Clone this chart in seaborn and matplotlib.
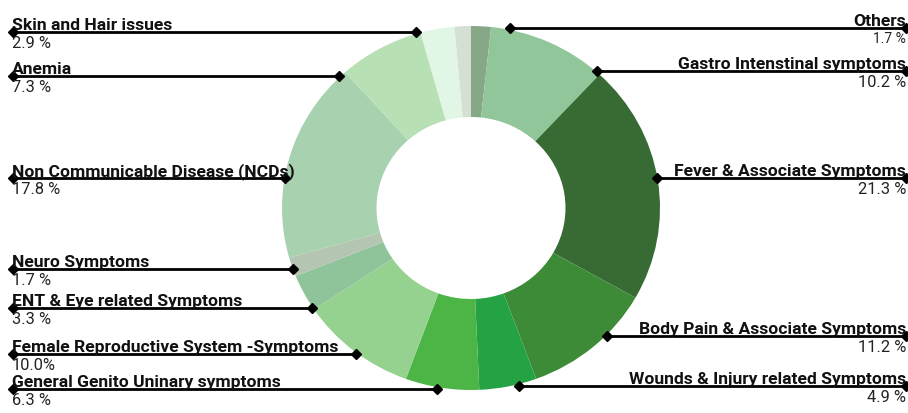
import numpy as np
import seaborn as sns
import matplotlib
matplotlib.use("Agg")
import matplotlib.pyplot as plt

# slices, clockwise from 12 o'clock
labels = ["Others", "Gastro Intenstinal symptoms", "Fever & Associate Symptoms",
          "Body Pain & Associate Symptoms", "Wounds & Injury related Symptoms",
          "General Genito Uninary symptoms", "Female Reproductive System -Symptoms",
          "ENT & Eye related Symptoms", "Neuro Symptoms",
          "Non Communicable Disease (NCDs)", "Anemia", "Skin and Hair issues", ""]
values = [1.7, 10.2, 21.3, 11.2, 4.9, 6.3, 10.0, 3.3, 1.7, 17.8, 7.3, 2.9, 1.4]
pct_text = ["1.7 %", "10.2 %", "21.3 %", "11.2 %", "4.9 %", "6.3 %", "10.0%",
            "3.3 %", "1.7 %", "17.8 %", "7.3 %", "2.9 %", ""]
colors = ["#87a886", "#90c69a", "#376b33", "#3d8b37", "#25a244", "#4db546",
          "#95d18f", "#8fc49a", "#b4c5b2", "#a8d1b0", "#b7e1b4", "#e1f6e4", "#d5e0d5"]

# label layout: side and line height (pixels from top)
side = ["R", "R", "R", "R", "R", "L", "L", "L", "L", "L", "L", "L", None]
line_y = [28, 71, 178, 336, 386, 389, 354, 308, 269, 178, 76, 32, None]

sns.set_style("white")
plt.rcParams['font.family'] = ['Roboto', 'DejaVu Sans']

W, H = 908, 413
cx, cy, rx, ry = 471, 208, 189, 182

fig = plt.figure(figsize=(W / 100, H / 100), dpi=100)
pax = fig.add_axes([(cx - rx) / W, (H - cy - ry) / H, 2 * rx / W, 2 * ry / H])
pax.pie(values, colors=sns.color_palette(colors), startangle=90, counterclock=False,
        radius=1, wedgeprops=dict(width=0.5, linewidth=0))
pax.set_aspect("auto")
pax.set_xlim(-1, 1)
pax.set_ylim(-1, 1)
pax.axis("off")

ax = fig.add_axes([0, 0, 1, 1])
ax.set_xlim(0, W)
ax.set_ylim(H, 0)
ax.axis("off")

for name, pct, s, y in zip(labels, pct_text, side, line_y):
    if s is None:
        continue
    dx = rx * np.sqrt(max(0.0, 1 - ((y - cy) / (ry + 2)) ** 2))
    if s == "L":
        x0, x1, tx, ha = 13, cx - max(dx, 30), 12, "left"
    else:
        x0, x1, tx, ha = cx + min(max(dx, 30), rx), 906, 906, "right"
    ax.plot([x0, x1], [y, y], color="black", lw=2, marker="D", markersize=5,
            solid_capstyle="butt")
    ax.text(tx, y - 2, name, ha=ha, va="baseline", fontsize=12.6, fontweight="bold",
            color="#111111")
    ax.text(tx, y + 4, pct, ha=ha, va="top", fontsize=10 if name == "Others" else 11.8,
            color="#222222")

fig.savefig("out.png", dpi=100)
